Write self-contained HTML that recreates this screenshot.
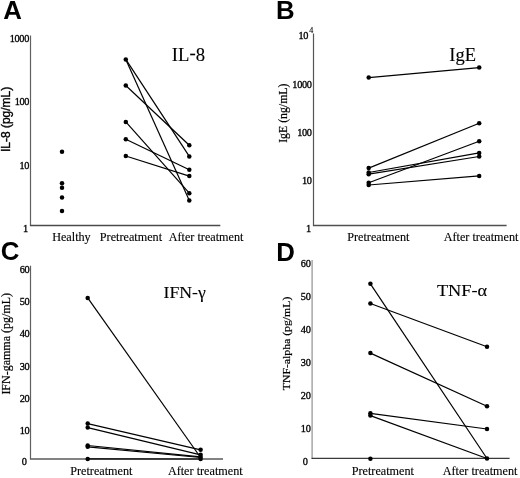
<!DOCTYPE html>
<html><head><meta charset="utf-8"><title>Figure</title>
<style>html,body{margin:0;padding:0;background:#fff;overflow:hidden;}svg{display:block;}</style></head>
<body><svg style="filter:grayscale(1)" width="520" height="478" viewBox="0 0 520 478">
<rect width="520" height="478" fill="#fff"/>
<text x="3.35" y="18.80" font-size="25.8" font-family='"Liberation Sans", sans-serif' font-weight="bold" letter-spacing="0">A</text>
<text x="275.92" y="19.40" font-size="25.8" font-family='"Liberation Sans", sans-serif' font-weight="bold" letter-spacing="0">B</text>
<text x="0.87" y="260.40" font-size="25.8" font-family='"Liberation Sans", sans-serif' font-weight="bold" letter-spacing="0">C</text>
<text x="276.22" y="260.60" font-size="25.8" font-family='"Liberation Sans", sans-serif' font-weight="bold" letter-spacing="0">D</text>
<line x1="30.5" y1="35.5" x2="30.5" y2="225.6" stroke="#606060" stroke-width="1.2"/>
<line x1="29.9" y1="225.6" x2="220.3" y2="225.6" stroke="#4a4a4a" stroke-width="1.5"/>
<text x="9.76" y="41.80" font-size="10.3" font-family='"Liberation Serif", serif' font-weight="normal" letter-spacing="-0.35" stroke="#000" stroke-width="0.32">1000</text>
<text x="14.76" y="105.30" font-size="10.3" font-family='"Liberation Serif", serif' font-weight="normal" letter-spacing="-0.35" stroke="#000" stroke-width="0.32">100</text>
<text x="19.56" y="168.70" font-size="10.3" font-family='"Liberation Serif", serif' font-weight="normal" letter-spacing="-0.35" stroke="#000" stroke-width="0.32">10</text>
<text x="23.07" y="231.60" font-size="10.3" font-family='"Liberation Serif", serif' font-weight="normal" letter-spacing="-0.35" stroke="#000" stroke-width="0.32">1</text>
<text transform="translate(9.70,152.08) rotate(-90) scale(1,1.0)" x="0" y="0" font-size="12" font-family='"Liberation Sans", sans-serif' letter-spacing="0" stroke="#000" stroke-width="0.35">IL-8 (pg/mL)</text>
<circle cx="62" cy="151.8" r="2.25" fill="#000"/>
<circle cx="62" cy="183.3" r="2.25" fill="#000"/>
<circle cx="62" cy="187.7" r="2.25" fill="#000"/>
<circle cx="62" cy="197.6" r="2.25" fill="#000"/>
<circle cx="62" cy="211.0" r="2.25" fill="#000"/>
<line x1="125.8" y1="59.4" x2="189.3" y2="156.4" stroke="#000" stroke-width="1.2"/>
<line x1="125.8" y1="59.4" x2="189.3" y2="200.5" stroke="#000" stroke-width="1.2"/>
<line x1="125.8" y1="85.5" x2="189.3" y2="145.3" stroke="#000" stroke-width="1.2"/>
<line x1="125.8" y1="121.9" x2="189.3" y2="193.2" stroke="#000" stroke-width="1.2"/>
<line x1="125.8" y1="139.3" x2="189.3" y2="169.7" stroke="#000" stroke-width="1.2"/>
<line x1="125.8" y1="156.0" x2="189.3" y2="176.1" stroke="#000" stroke-width="1.2"/>
<circle cx="125.8" cy="59.4" r="2.25" fill="#000"/>
<circle cx="125.8" cy="85.5" r="2.25" fill="#000"/>
<circle cx="125.8" cy="121.9" r="2.25" fill="#000"/>
<circle cx="125.8" cy="139.3" r="2.25" fill="#000"/>
<circle cx="125.8" cy="156.0" r="2.25" fill="#000"/>
<circle cx="189.3" cy="145.3" r="2.25" fill="#000"/>
<circle cx="189.3" cy="156.4" r="2.25" fill="#000"/>
<circle cx="189.3" cy="169.7" r="2.25" fill="#000"/>
<circle cx="189.3" cy="176.1" r="2.25" fill="#000"/>
<circle cx="189.3" cy="193.2" r="2.25" fill="#000"/>
<circle cx="189.3" cy="200.5" r="2.25" fill="#000"/>
<text transform="translate(171.85,61.20) scale(1.05,1.0)" x="0" y="0" font-size="17.8" font-family='"Liberation Serif", serif' font-weight="normal" letter-spacing="0" stroke="#000" stroke-width="0.12">IL<tspan dy="-2.4">-</tspan><tspan dy="2.4">8</tspan></text>
<text x="52.13" y="241.20" font-size="12.2" font-family='"Liberation Serif", serif' font-weight="normal" letter-spacing="0" stroke="#000" stroke-width="0.12">Healthy</text>
<text x="99.83" y="241.20" font-size="12.2" font-family='"Liberation Serif", serif' font-weight="normal" letter-spacing="0" stroke="#000" stroke-width="0.12">Pretreatment</text>
<text x="168.68" y="241.20" font-size="12.2" font-family='"Liberation Serif", serif' font-weight="normal" letter-spacing="0" stroke="#000" stroke-width="0.12">After treatment</text>
<line x1="313.5" y1="33.5" x2="313.5" y2="225.5" stroke="#555" stroke-width="1.2"/>
<line x1="312.9" y1="225.5" x2="506.6" y2="225.5" stroke="#505050" stroke-width="1.5"/>
<text x="298.56" y="39.30" font-size="10.3" font-family='"Liberation Serif", serif' font-weight="normal" letter-spacing="-0.35" stroke="#000" stroke-width="0.32">10</text>
<text x="309.20" y="33.00" font-size="8" font-family='"Liberation Serif", serif' font-weight="normal" letter-spacing="0" stroke="#000" stroke-width="0.12">4</text>
<text x="292.36" y="87.80" font-size="10.3" font-family='"Liberation Serif", serif' font-weight="normal" letter-spacing="-0.35" stroke="#000" stroke-width="0.32">1000</text>
<text x="297.16" y="136.10" font-size="10.3" font-family='"Liberation Serif", serif' font-weight="normal" letter-spacing="-0.35" stroke="#000" stroke-width="0.32">100</text>
<text x="301.96" y="184.00" font-size="10.3" font-family='"Liberation Serif", serif' font-weight="normal" letter-spacing="-0.35" stroke="#000" stroke-width="0.32">10</text>
<text x="306.07" y="231.60" font-size="10.3" font-family='"Liberation Serif", serif' font-weight="normal" letter-spacing="-0.35" stroke="#000" stroke-width="0.32">1</text>
<text transform="translate(286.80,142.81) rotate(-90) scale(1,0.97)" x="0" y="0" font-size="11.8" font-family='"Liberation Serif", serif' letter-spacing="0" stroke="#000" stroke-width="0.2">IgE (ng/mL)</text>
<line x1="368.7" y1="77.6" x2="479.2" y2="67.6" stroke="#000" stroke-width="1.2"/>
<line x1="368.7" y1="168.1" x2="479.2" y2="123.2" stroke="#000" stroke-width="1.2"/>
<line x1="368.7" y1="172.5" x2="479.2" y2="152.9" stroke="#000" stroke-width="1.2"/>
<line x1="368.7" y1="174.2" x2="479.2" y2="156.5" stroke="#000" stroke-width="1.2"/>
<line x1="368.7" y1="182.7" x2="479.2" y2="141.3" stroke="#000" stroke-width="1.2"/>
<line x1="368.7" y1="185.0" x2="479.2" y2="175.9" stroke="#000" stroke-width="1.2"/>
<circle cx="368.7" cy="77.6" r="2.25" fill="#000"/>
<circle cx="368.7" cy="168.1" r="2.25" fill="#000"/>
<circle cx="368.7" cy="172.5" r="2.25" fill="#000"/>
<circle cx="368.7" cy="174.2" r="2.25" fill="#000"/>
<circle cx="368.7" cy="182.7" r="2.25" fill="#000"/>
<circle cx="368.7" cy="185.0" r="2.25" fill="#000"/>
<circle cx="479.2" cy="67.6" r="2.25" fill="#000"/>
<circle cx="479.2" cy="123.2" r="2.25" fill="#000"/>
<circle cx="479.2" cy="141.3" r="2.25" fill="#000"/>
<circle cx="479.2" cy="152.9" r="2.25" fill="#000"/>
<circle cx="479.2" cy="156.5" r="2.25" fill="#000"/>
<circle cx="479.2" cy="175.9" r="2.25" fill="#000"/>
<text transform="translate(449.35,60.90) scale(1.04,1.0)" x="0" y="0" font-size="17.8" font-family='"Liberation Serif", serif' font-weight="normal" letter-spacing="0" stroke="#000" stroke-width="0.12">IgE</text>
<text x="347.23" y="240.80" font-size="12.2" font-family='"Liberation Serif", serif' font-weight="normal" letter-spacing="0" stroke="#000" stroke-width="0.12">Pretreatment</text>
<text x="443.68" y="240.80" font-size="12.2" font-family='"Liberation Serif", serif' font-weight="normal" letter-spacing="0" stroke="#000" stroke-width="0.12">After treatment</text>
<line x1="30.5" y1="265.7" x2="30.5" y2="458.9" stroke="#606060" stroke-width="1.2"/>
<line x1="29.9" y1="458.9" x2="223" y2="458.9" stroke="#5a5a5a" stroke-width="1.5"/>
<text x="19.66" y="272.70" font-size="10.3" font-family='"Liberation Serif", serif' font-weight="normal" letter-spacing="-0.35" stroke="#000" stroke-width="0.32">60</text>
<text x="19.66" y="305.00" font-size="10.3" font-family='"Liberation Serif", serif' font-weight="normal" letter-spacing="-0.35" stroke="#000" stroke-width="0.32">50</text>
<text x="19.66" y="337.30" font-size="10.3" font-family='"Liberation Serif", serif' font-weight="normal" letter-spacing="-0.35" stroke="#000" stroke-width="0.32">40</text>
<text x="19.66" y="369.60" font-size="10.3" font-family='"Liberation Serif", serif' font-weight="normal" letter-spacing="-0.35" stroke="#000" stroke-width="0.32">30</text>
<text x="19.66" y="401.90" font-size="10.3" font-family='"Liberation Serif", serif' font-weight="normal" letter-spacing="-0.35" stroke="#000" stroke-width="0.32">20</text>
<text x="19.66" y="434.20" font-size="10.3" font-family='"Liberation Serif", serif' font-weight="normal" letter-spacing="-0.35" stroke="#000" stroke-width="0.32">10</text>
<text x="21.66" y="465.20" font-size="10.3" font-family='"Liberation Serif", serif' font-weight="normal" letter-spacing="-0.35" stroke="#000" stroke-width="0.32">0</text>
<text transform="translate(10.10,394.62) rotate(-90) scale(1,0.97)" x="0" y="0" font-size="12" font-family='"Liberation Serif", serif' letter-spacing="0" stroke="#000" stroke-width="0.2">IFN-gamma (pg/mL)</text>
<line x1="87.7" y1="297.9" x2="200.6" y2="457.5" stroke="#000" stroke-width="1.2"/>
<line x1="87.7" y1="423.6" x2="200.6" y2="449.8" stroke="#000" stroke-width="1.2"/>
<line x1="87.7" y1="427.6" x2="200.6" y2="454.8" stroke="#000" stroke-width="1.2"/>
<line x1="87.7" y1="445.5" x2="200.6" y2="456.9" stroke="#000" stroke-width="1.2"/>
<line x1="87.7" y1="446.8" x2="200.6" y2="457.5" stroke="#000" stroke-width="1.2"/>
<line x1="87.7" y1="458.9" x2="200.6" y2="459.0" stroke="#000" stroke-width="1.2"/>
<circle cx="87.7" cy="297.9" r="2.25" fill="#000"/>
<circle cx="87.7" cy="423.6" r="2.25" fill="#000"/>
<circle cx="87.7" cy="427.6" r="2.25" fill="#000"/>
<circle cx="87.7" cy="445.5" r="2.25" fill="#000"/>
<circle cx="87.7" cy="446.8" r="2.25" fill="#000"/>
<circle cx="87.7" cy="458.9" r="2.25" fill="#000"/>
<circle cx="200.6" cy="449.8" r="2.25" fill="#000"/>
<circle cx="200.6" cy="454.8" r="2.25" fill="#000"/>
<circle cx="200.6" cy="456.9" r="2.25" fill="#000"/>
<circle cx="200.6" cy="459.0" r="2.25" fill="#000"/>
<text transform="translate(163.58,297.70) scale(1.03,1.0)" x="0" y="0" font-size="17.2" font-family='"Liberation Serif", serif' font-weight="normal" letter-spacing="0" stroke="#000" stroke-width="0.12">IFN-&#947;</text>
<text x="70.23" y="474.80" font-size="12.2" font-family='"Liberation Serif", serif' font-weight="normal" letter-spacing="0" stroke="#000" stroke-width="0.12">Pretreatment</text>
<text x="167.88" y="474.80" font-size="12.2" font-family='"Liberation Serif", serif' font-weight="normal" letter-spacing="0" stroke="#000" stroke-width="0.12">After treatment</text>
<line x1="312.1" y1="260" x2="312.1" y2="458.4" stroke="#999" stroke-width="1.3"/>
<line x1="311.5" y1="458.4" x2="509.6" y2="458.4" stroke="#3a3a3a" stroke-width="1.4"/>
<text x="300.86" y="267.10" font-size="10.3" font-family='"Liberation Serif", serif' font-weight="normal" letter-spacing="-0.35" stroke="#000" stroke-width="0.32">60</text>
<text x="300.86" y="300.00" font-size="10.3" font-family='"Liberation Serif", serif' font-weight="normal" letter-spacing="-0.35" stroke="#000" stroke-width="0.32">50</text>
<text x="300.86" y="332.90" font-size="10.3" font-family='"Liberation Serif", serif' font-weight="normal" letter-spacing="-0.35" stroke="#000" stroke-width="0.32">40</text>
<text x="300.86" y="365.80" font-size="10.3" font-family='"Liberation Serif", serif' font-weight="normal" letter-spacing="-0.35" stroke="#000" stroke-width="0.32">30</text>
<text x="300.86" y="398.70" font-size="10.3" font-family='"Liberation Serif", serif' font-weight="normal" letter-spacing="-0.35" stroke="#000" stroke-width="0.32">20</text>
<text x="300.86" y="431.60" font-size="10.3" font-family='"Liberation Serif", serif' font-weight="normal" letter-spacing="-0.35" stroke="#000" stroke-width="0.32">10</text>
<text x="302.76" y="464.60" font-size="10.3" font-family='"Liberation Serif", serif' font-weight="normal" letter-spacing="-0.35" stroke="#000" stroke-width="0.32">0</text>
<text transform="translate(289.90,390.24) rotate(-90) scale(1,0.97)" x="0" y="0" font-size="11.75" font-family='"Liberation Serif", serif' letter-spacing="0" stroke="#000" stroke-width="0.2">TNF-alpha (pg/mL)</text>
<line x1="370.4" y1="283.8" x2="487.0" y2="458.5" stroke="#000" stroke-width="1.2"/>
<line x1="370.4" y1="303.5" x2="487.0" y2="346.7" stroke="#000" stroke-width="1.2"/>
<line x1="370.4" y1="353.1" x2="487.0" y2="406.2" stroke="#000" stroke-width="1.2"/>
<line x1="370.4" y1="413.3" x2="487.0" y2="429.0" stroke="#000" stroke-width="1.2"/>
<line x1="370.4" y1="415.6" x2="487.0" y2="458.5" stroke="#000" stroke-width="1.2"/>
<circle cx="370.4" cy="283.8" r="2.25" fill="#000"/>
<circle cx="370.4" cy="303.5" r="2.25" fill="#000"/>
<circle cx="370.4" cy="353.1" r="2.25" fill="#000"/>
<circle cx="370.4" cy="413.3" r="2.25" fill="#000"/>
<circle cx="370.4" cy="415.6" r="2.25" fill="#000"/>
<circle cx="370.4" cy="458.7" r="2.25" fill="#000"/>
<circle cx="487.0" cy="346.7" r="2.25" fill="#000"/>
<circle cx="487.0" cy="406.2" r="2.25" fill="#000"/>
<circle cx="487.0" cy="429.0" r="2.25" fill="#000"/>
<circle cx="487.0" cy="458.5" r="2.25" fill="#000"/>
<text transform="translate(436.93,295.70) scale(1.09,1.0)" x="0" y="0" font-size="16.8" font-family='"Liberation Serif", serif' font-weight="normal" letter-spacing="0" stroke="#000" stroke-width="0.12">TNF-&#945;</text>
<text x="351.73" y="474.60" font-size="12.2" font-family='"Liberation Serif", serif' font-weight="normal" letter-spacing="0" stroke="#000" stroke-width="0.12">Pretreatment</text>
<text x="442.68" y="474.60" font-size="12.2" font-family='"Liberation Serif", serif' font-weight="normal" letter-spacing="0" stroke="#000" stroke-width="0.12">After treatment</text>
</svg></body></html>
